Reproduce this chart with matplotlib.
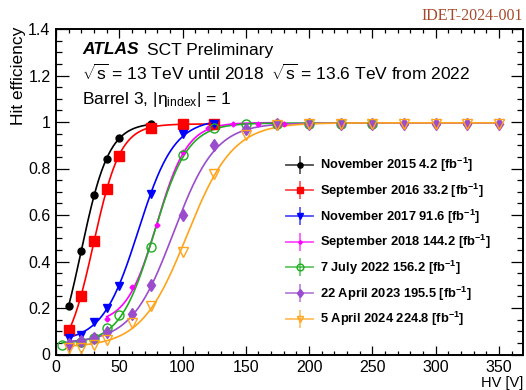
import numpy as np
import matplotlib
matplotlib.use("Agg")
import matplotlib.pyplot as plt
from matplotlib.lines import Line2D
from matplotlib.legend_handler import HandlerTuple

plt.rcParams['font.family'] = ['Liberation Sans', 'DejaVu Sans']
plt.rcParams['mathtext.fontset'] = 'custom'
plt.rcParams['mathtext.rm'] = 'Liberation Sans'
plt.rcParams['mathtext.it'] = 'Liberation Sans:italic'
plt.rcParams['mathtext.bf'] = 'Liberation Sans:bold'

# ---------------- data ----------------
labels = [
    "November 2015 4.2 [fb$^{\\mathbf{-1}}$]",
    "September 2016 33.2 [fb$^{\\mathbf{-1}}$]",
    "November 2017 91.6 [fb$^{\\mathbf{-1}}$]",
    "September 2018 144.2 [fb$^{\\mathbf{-1}}$]",
    "7 July 2022 156.2 [fb$^{\\mathbf{-1}}$]",
    "22 April 2023 195.5 [fb$^{\\mathbf{-1}}$]",
    "5 April 2024 224.8 [fb$^{\\mathbf{-1}}$]",
]

hv_2015 = [10, 20, 30, 40, 50, 75]
eff_2015 = [0.21, 0.445, 0.685, 0.84, 0.93, 0.99]

hv_2016 = [10, 20, 30, 40, 50, 75, 100, 125]
eff_2016 = [0.105, 0.25, 0.49, 0.71, 0.855, 0.975, 0.992, 0.993]

hv_2017 = [10, 20, 30, 40, 50, 75, 100, 125]
eff_2017 = [0.07, 0.086, 0.14, 0.20, 0.296, 0.69, 0.95, 0.99]

hv_2018 = [40, 60, 80, 100, 120, 140, 160, 180]
eff_2018 = [0.153, 0.289, 0.555, 0.871, 0.975, 0.99, 0.992, 0.993]

hv_2022 = [5, 20, 30, 40, 50, 75, 100, 125, 150, 175, 200, 225, 250]
eff_2022 = [0.04, 0.053, 0.07, 0.114, 0.171, 0.462, 0.86, 0.974, 0.99, 0.992, 0.993, 0.993, 0.993]

hv_2023 = [10, 20, 30, 40, 60, 75, 100, 125, 150, 175, 200, 225, 250, 275, 300, 325, 350]
eff_2023 = [0.046, 0.057, 0.071, 0.097, 0.175, 0.30, 0.60, 0.903, 0.972, 0.99, 0.992,
            0.993, 0.993, 0.993, 0.993, 0.993, 0.993]

hv_2024 = [10, 20, 30, 40, 60, 75, 100, 125, 150, 175, 200, 225, 250, 275, 300, 325, 350]
eff_2024 = [0.026, 0.029, 0.043, 0.064, 0.136, 0.207, 0.443, 0.776, 0.946, 0.985, 0.99,
            0.992, 0.993, 0.993, 0.993, 0.993, 0.993]

# ---------------- styles ----------------
series = [
    (hv_2015, eff_2015, dict(color='black', marker='o', ms=5, mfc='black')),
    (hv_2016, eff_2016, dict(color='#ff0000', marker='s', ms=6.5, mfc='#ff0000')),
    (hv_2017, eff_2017, dict(color='#0000ff', marker='v', ms=6, mfc='#0000ff')),
    (hv_2018, eff_2018, dict(color='#ff00ff', marker='D', ms=2.5, mfc='#ff00ff')),
    (hv_2022, eff_2022, dict(color='#1fae1f', marker='o', ms=6.5, mfc='none')),
    (hv_2023, eff_2023, dict(color='#9a4ccd', marker='d', ms=6, mfc='#9a4ccd')),
    (hv_2024, eff_2024, dict(color='#ffa31a', marker='v', ms=6.5, mfc='none')),
]


def fit_sigmoid(v, e):
    """Least-squares fit of a 4-parameter logistic, as the reference shows fits."""
    v = np.asarray(v, float)
    e = np.asarray(e, float)

    def f(p, x):
        return p[0] + (p[1] - p[0]) / (1.0 + np.exp(-(x - p[2]) / p[3]))

    mid = 0.5 * (e.min() + e.max())
    p = np.array([e.min(), e.max(), v[np.argmin(np.abs(e - mid))], 12.0])
    cost = np.sum((e - f(p, v)) ** 2)
    lam = 1e-2
    for _ in range(600):
        r = e - f(p, v)
        J = np.empty((len(v), 4))
        for k in range(4):
            h = 1e-6 * max(1.0, abs(p[k]))
            d = np.zeros(4)
            d[k] = h
            J[:, k] = (f(p + d, v) - f(p - d, v)) / (2 * h)
        A = J.T @ J
        g = J.T @ r
        step = np.linalg.solve(A + lam * np.diag(np.diag(A)) + 1e-12 * np.eye(4), g)
        pn = p + step
        if pn[3] <= 0.5:
            lam *= 10
            continue
        cn = np.sum((e - f(pn, v)) ** 2)
        if cn < cost:
            p, cost, lam = pn, cn, lam / 3
        else:
            lam *= 3
    return lambda x: f(p, x)


W, H = 526, 390
fig = plt.figure(figsize=(W / 100, H / 100), dpi=100)
L, R, T, B = 56, 523, 29, 354.5
ax = fig.add_axes([L / W, 1 - B / H, (R - L) / W, (B - T) / H])

handles = []
for (hv, eff, st), lab in zip(series, labels):
    c = st['color']
    fn = fit_sigmoid(hv, eff)
    xs = np.linspace(min(hv), max(hv), 400)
    ax.plot(xs, fn(xs), color=c, lw=1.2, zorder=2)
    ax.plot(hv, eff, ls='none', marker=st['marker'], ms=st['ms'], mfc=st['mfc'],
            mec=c, mew=1.0, zorder=3)
    hline = Line2D([], [], color=c, lw=1.3, alpha=0.7)
    vline = Line2D([], [], color=c, marker='|', ms=13, mew=1.2, ls='none', alpha=0.7)
    mk = Line2D([], [], color=c, marker=st['marker'], ms=st['ms'] * 0.75, mfc=st['mfc'],
                mec=c, mew=1.0, ls='none')
    handles.append((hline, vline, mk))

ax.set_xlim(0, 369)
ax.set_ylim(0, 1.4)
ax.set_xticks(np.arange(0, 351, 50))
ax.set_xticks(np.arange(0, 369, 10), minor=True)
ax.set_yticks(np.arange(0, 1.41, 0.2))
ax.set_yticks(np.arange(0, 1.41, 0.05), minor=True)
ax.set_yticklabels(['0', '0.2', '0.4', '0.6', '0.8', '1', '1.2', '1.4'])
ax.tick_params(axis='both', which='both', direction='in', top=True, right=True,
               labelsize=11.5, width=0.9)
ax.tick_params(axis='x', which='major', length=6.5, pad=4)
ax.tick_params(axis='x', which='minor', length=3.2)
ax.tick_params(axis='y', which='major', length=9, pad=4)
ax.tick_params(axis='y', which='minor', length=4.5)
for s in ax.spines.values():
    s.set_linewidth(1.4)

ax.set_ylabel('Hit efficiency', fontsize=12.5, loc='top')
ax.yaxis.set_label_coords(-0.064, 1.006)
ax.set_xlabel('HV [V]', fontsize=10.5, loc='right')
ax.xaxis.set_label_coords(1.0, -0.066)

leg = ax.legend(handles, labels, handler_map={tuple: HandlerTuple(ndivide=1, pad=0)},
                loc='upper left', bbox_to_anchor=(286 / W, 1 - 156 / H),
                bbox_transform=fig.transFigure, frameon=False, borderpad=0,
                borderaxespad=0, handlelength=2.1, handletextpad=0.55,
                labelspacing=0.58, prop={'weight': 'bold', 'size': 9.3})


def ftext(x, y, s, **kw):
    fig.text(x / W, 1 - y / H, s, va='baseline', **kw)


ftext(82.5, 54.5, 'ATLAS', fontsize=12.5, fontweight='bold', fontstyle='italic')
ftext(147, 54.5, 'SCT Preliminary', fontsize=12.5)
ftext(82.5, 80, r'$\sqrt{\mathrm{s}}$ = 13 TeV until 2018', fontsize=12.5)
ftext(271, 80, r'$\sqrt{\mathrm{s}}$ = 13.6 TeV from 2022', fontsize=12.5)
ftext(82.5, 104, r'Barrel 3, |η$_{\mathrm{index}}$| = 1', fontsize=12.5)
fig.text(523 / W, 1 - 19.5 / H, 'IDET-2024-001', ha='right', va='baseline',
         fontsize=11.5, family='Liberation Serif', color='#a64b2a')

fig.savefig('out.png', dpi=100)
